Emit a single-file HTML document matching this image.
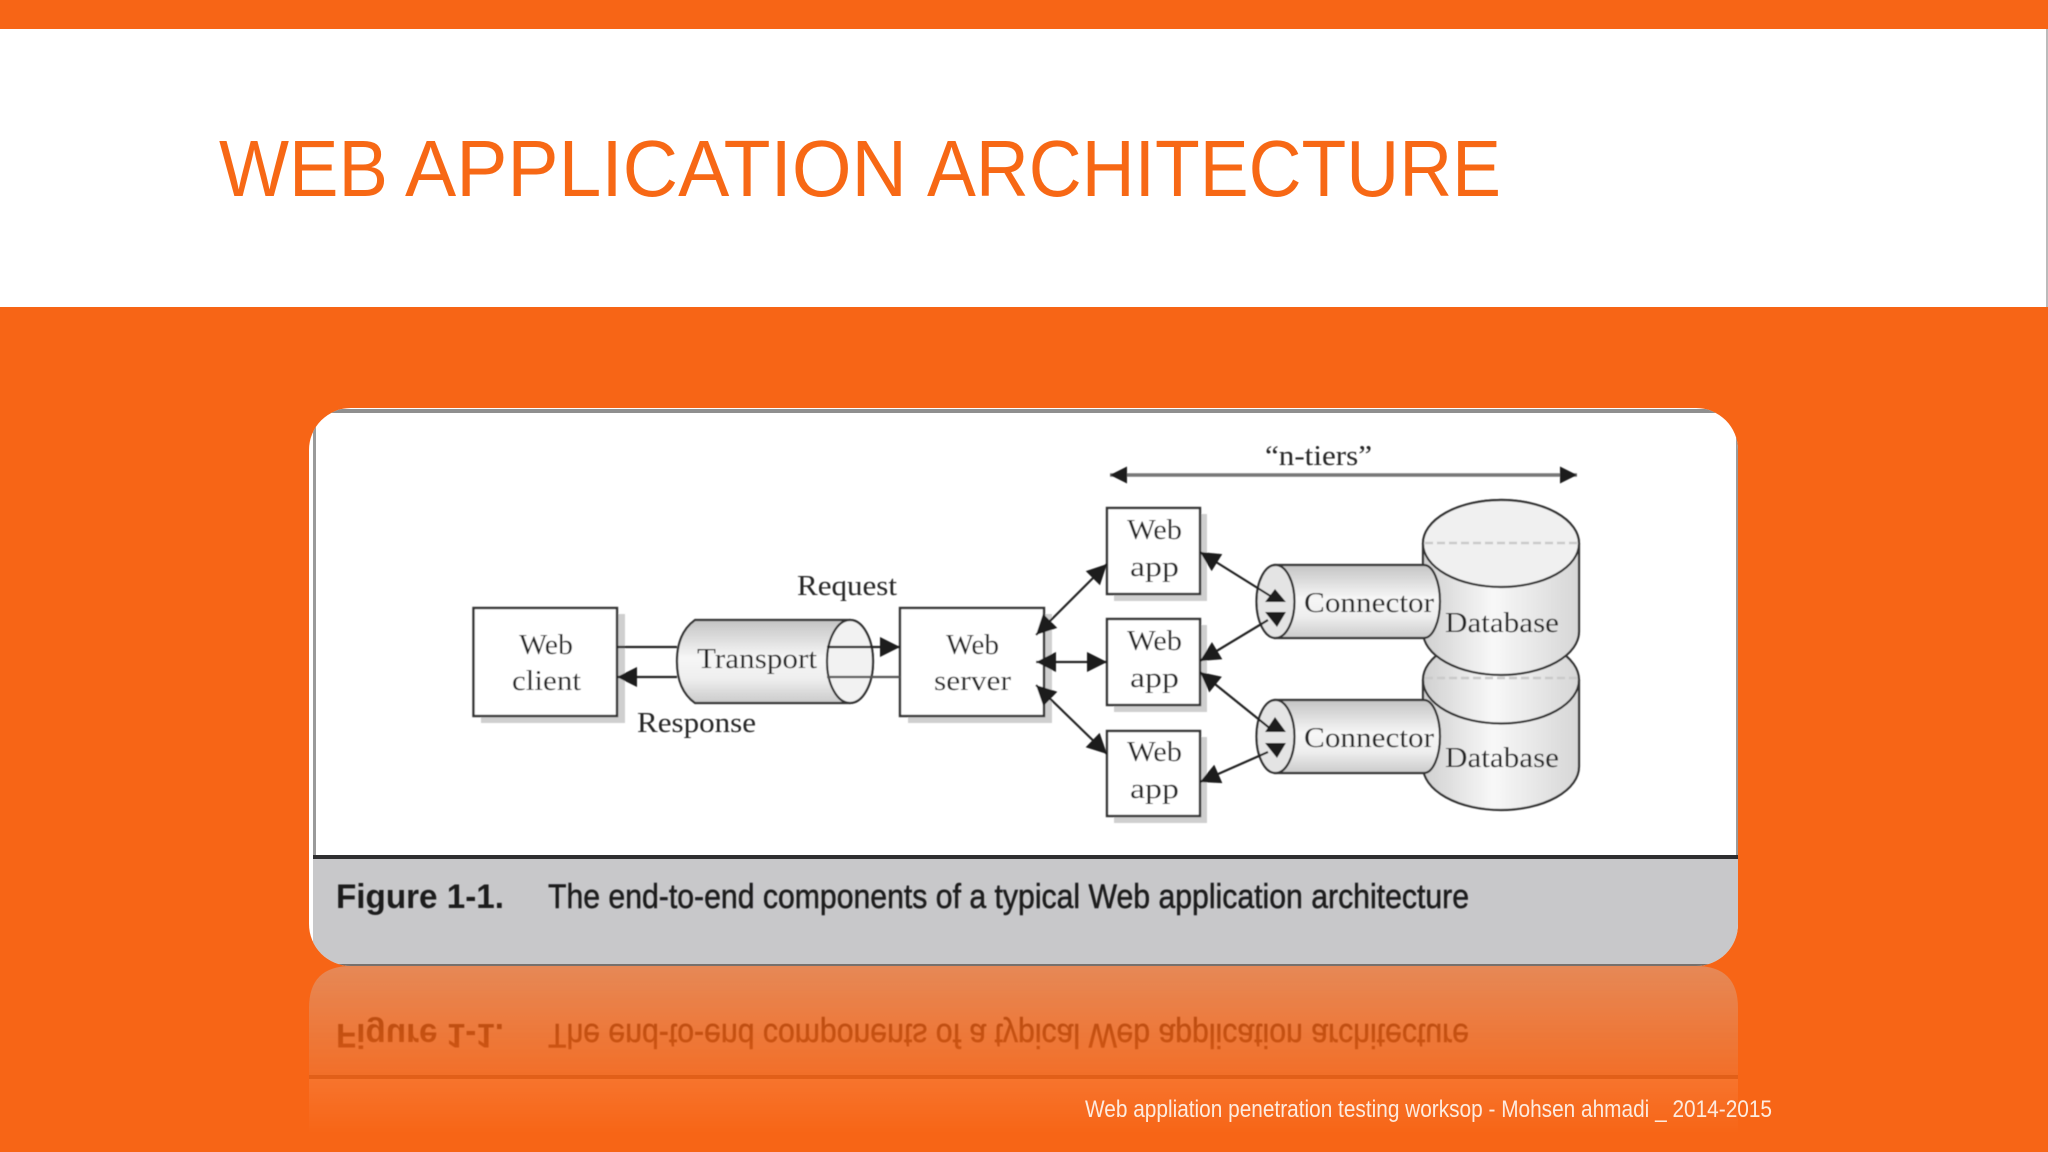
<!DOCTYPE html>
<html lang="en">
<head>
<meta charset="utf-8">
<title>Web Application Architecture</title>
<style>
html,body{margin:0;padding:0;width:2048px;height:1152px;overflow:hidden;background:#F76516}
svg{display:block;overflow:hidden}
text{font-family:"Liberation Serif",serif;fill:#262626}
.s{font-family:"Liberation Sans",sans-serif}
</style>
</head>
<body>
<svg xmlns="http://www.w3.org/2000/svg" width="2048" height="1152" viewBox="0 0 2048 1152">
<defs>
<linearGradient id="v" x1="0" y1="0" x2="0" y2="1"><stop offset="0" stop-color="#c4c4c4"/><stop offset=".45" stop-color="#f6f6f6"/><stop offset=".7" stop-color="#efefef"/><stop offset="1" stop-color="#cbcbcb"/></linearGradient>
<linearGradient id="h" x1="0" y1="0" x2="1" y2="0"><stop offset="0" stop-color="#d0d0d0"/><stop offset=".45" stop-color="#f8f8f8"/><stop offset="1" stop-color="#d6d6d6"/></linearGradient>
<linearGradient id="fade" gradientUnits="userSpaceOnUse" x1="0" y1="966" x2="0" y2="1136"><stop offset="0" stop-color="#fff" stop-opacity=".36"/><stop offset=".63" stop-color="#fff" stop-opacity=".11"/><stop offset="1" stop-color="#fff" stop-opacity="0"/></linearGradient>
<mask id="rm" maskUnits="userSpaceOnUse" x="300" y="966" width="1450" height="170"><rect x="300" y="966" width="1450" height="170" fill="url(#fade)"/></mask>
<clipPath id="card"><rect x="309" y="408" width="1429" height="558" rx="42"/></clipPath>
<clipPath id="rc"><path d="M351 966H1696Q1738 966 1738 1008V1136H309V1008Q309 966 351 966Z"/></clipPath>
<marker id="a" viewBox="0 0 16 16" refX="16" refY="8" markerWidth="17" markerHeight="17" markerUnits="userSpaceOnUse" orient="auto-start-reverse"><path d="M0 0L16 8L0 16Z" fill="#1c1c1c"/></marker>
<marker id="c" viewBox="0 0 20 20" refX="20" refY="10" markerWidth="21" markerHeight="20" markerUnits="userSpaceOnUse" orient="auto-start-reverse"><path d="M0 0L20 10L0 20Z" fill="#1c1c1c"/></marker>
<filter id="b" x="-5%" y="-5%" width="110%" height="110%"><feGaussianBlur stdDeviation=".6"/></filter>
</defs>

<rect width="2048" height="1152" fill="#F76516"/>
<rect y="29" width="2048" height="278" fill="#fff"/>
<rect x="2046" y="29" width="2" height="278" fill="#bbb"/>
<g class="s" font-size="80" style="font-family:'Liberation Sans',sans-serif">
<text class="s" x="219" y="196" font-size="80" textLength="169" lengthAdjust="spacingAndGlyphs" style="fill:#F76815">WEB</text>
<text class="s" x="405" y="196" font-size="80" textLength="502" lengthAdjust="spacingAndGlyphs" style="fill:#F76815">APPLICATION</text>
<text class="s" x="927" y="196" font-size="80" textLength="574" lengthAdjust="spacingAndGlyphs" style="fill:#F76815">ARCHITECTURE</text>
</g>

<!-- reflection -->
<g mask="url(#rm)">
  <g clip-path="url(#rc)">
    <rect x="309" y="966" width="1429" height="109" fill="#C8C8CA"/>
    <rect x="309" y="1075" width="1429" height="4" fill="#333"/>
    <rect x="309" y="1079" width="1429" height="57" fill="#fff"/>
  </g>
  <g filter="url(#b)">
    <g transform="matrix(1 0 0 -1 0 1932)">
      <text class="s" x="336" y="908" font-size="34" font-weight="700" textLength="168" lengthAdjust="spacingAndGlyphs" style="fill:#000">Figure 1-1.</text>
      <text class="s" x="548" y="908" font-size="34" textLength="921" lengthAdjust="spacingAndGlyphs" style="fill:#000;stroke:#000;stroke-width:.5">The end-to-end components of a typical Web application architecture</text>
    </g>
  </g>
</g>

<!-- card -->
<g clip-path="url(#card)">
  <rect x="309" y="408" width="1429" height="558" fill="#fff"/>
  <rect x="309" y="409" width="1429" height="4" fill="#8f8f8f"/>
  <rect x="313" y="409" width="3" height="448" fill="#9a9a9a"/>
  <rect x="1736" y="409" width="2" height="448" fill="#9a9a9a"/>
  <rect x="313" y="858" width="1425" height="108" fill="#C8C8CA"/>
  <rect x="313" y="855" width="1425" height="4" fill="#2e2e30"/>
  <rect x="309" y="964" width="1429" height="2" fill="#77706c"/>
</g>

<g filter="url(#b)">
<text class="s" x="336" y="908" font-size="34" font-weight="700" textLength="168" lengthAdjust="spacingAndGlyphs" style="fill:#1d1d1f">Figure 1-1.</text>
<text class="s" x="548" y="908" font-size="34" textLength="921" lengthAdjust="spacingAndGlyphs" style="fill:#1d1d1f;stroke:#1d1d1f;stroke-width:.5">The end-to-end components of a typical Web application architecture</text>
</g>

<g filter="url(#b)">
  <!-- shadows -->
  <g fill="#cfcfcf">
    <rect x="481" y="614" width="144" height="109"/>
    <rect x="908" y="614" width="144" height="109"/>
    <rect x="1114" y="514" width="93" height="87"/>
    <rect x="1114" y="625" width="93" height="87"/>
    <rect x="1114" y="737" width="93" height="86"/>
  </g>
  <!-- boxes -->
  <g fill="#fff" stroke="#333" stroke-width="2.4">
    <rect x="473.500" y="608" width="143.500" height="108"/>
    <rect x="900" y="608" width="144" height="108"/>
    <rect x="1107" y="508" width="93" height="86"/>
    <rect x="1107" y="619" width="93" height="86"/>
    <rect x="1107" y="731" width="93" height="85"/>
  </g>

  <!-- transport -->
  <path d="M695 620H850A23 41.500 0 0 1 850 703H695Q677 690 677 661.500Q677 633 695 620Z" fill="url(#v)" stroke="#333" stroke-width="2.200"/>
  <ellipse cx="850" cy="661.500" rx="23" ry="41.500" fill="#f2f2f2" stroke="#333" stroke-width="2.200"/>
  <g stroke="#222" stroke-width="2.200" fill="none">
    <line x1="617" y1="647" x2="677" y2="647"/>
    <line x1="827" y1="647" x2="900" y2="647" marker-end="url(#c)"/>
    <line x1="677" y1="677" x2="617" y2="677" marker-end="url(#c)"/>
    <line x1="827" y1="677" x2="900" y2="677" stroke="#555"/>
  </g>

  <!-- database 2 -->
  <path d="M1423 680A78 43.500 0 0 1 1579 680V766.500A78 43.500 0 0 1 1423 766.500Z" fill="url(#h)" stroke="#333" stroke-width="2.200"/>
  <path d="M1423 680A78 43.500 0 0 0 1579 680" fill="none" stroke="#333" stroke-width="2.200"/>
  <line x1="1425" y1="678" x2="1577" y2="678" stroke="#c9c9c9" stroke-width="2.500" stroke-dasharray="8 4"/>
  <!-- database 1 -->
  <path d="M1423 543.500A78 43.500 0 0 1 1579 543.500V631.500A78 43.500 0 0 1 1423 631.500Z" fill="url(#h)" stroke="#333" stroke-width="2.200"/>
  <ellipse cx="1501" cy="543.500" rx="78" ry="43.500" fill="#f0f0f0" stroke="#333" stroke-width="2.200"/>
  <line x1="1425" y1="543" x2="1577" y2="543" stroke="#cacaca" stroke-width="2.500" stroke-dasharray="8 4"/>

  <!-- connector 1 -->
  <path d="M1275 565H1424A16 36.500 0 0 1 1424 638H1275Z" fill="url(#v)" stroke="#333" stroke-width="2.200"/>
  <ellipse cx="1275.500" cy="601.500" rx="19" ry="36.500" fill="#e4e4e4" stroke="#333" stroke-width="2.200"/>
  <!-- connector 2 -->
  <path d="M1275 700H1424A16 36.500 0 0 1 1424 773H1275Z" fill="url(#v)" stroke="#333" stroke-width="2.200"/>
  <ellipse cx="1275.500" cy="736.500" rx="19" ry="36.500" fill="#e4e4e4" stroke="#333" stroke-width="2.200"/>

  <!-- arrows -->
  <g stroke="#222" stroke-width="2.200" fill="none">
    <line x1="1110" y1="475" x2="1577" y2="475" stroke="#777" stroke-width="3.500" marker-start="url(#a)" marker-end="url(#a)"/>
    <line x1="1036" y1="635" x2="1107" y2="564" marker-start="url(#c)" marker-end="url(#c)"/>
    <line x1="1036" y1="662" x2="1107" y2="662" marker-start="url(#c)" marker-end="url(#c)"/>
    <line x1="1036" y1="685" x2="1107" y2="754" marker-start="url(#c)" marker-end="url(#c)"/>
    <line x1="1200" y1="552" x2="1272" y2="597" marker-start="url(#c)"/>
    <line x1="1200" y1="661" x2="1268" y2="620" marker-start="url(#c)"/>
    <line x1="1200" y1="672" x2="1272" y2="730" marker-start="url(#c)"/>
    <line x1="1200" y1="782" x2="1268" y2="752" marker-start="url(#c)"/>
  </g>
  <g fill="#1c1c1c">
    <path d="M1275 589L1286 602H1265Z"/>
    <path d="M1265 612H1286L1277 627Z"/>
    <path d="M1275 717L1286 732H1265Z"/>
    <path d="M1265 743H1286L1277 758Z"/>
  </g>

  <!-- labels -->
  <g font-size="29">
    <text x="519" y="654" textLength="54" lengthAdjust="spacingAndGlyphs">Web</text>
    <text x="512" y="690" textLength="69" lengthAdjust="spacingAndGlyphs">client</text>
    <text x="946" y="654" textLength="53" lengthAdjust="spacingAndGlyphs">Web</text>
    <text x="934" y="690" textLength="77" lengthAdjust="spacingAndGlyphs">server</text>
    <text x="797" y="595" textLength="100" lengthAdjust="spacingAndGlyphs">Request</text>
    <text x="637" y="732" textLength="119" lengthAdjust="spacingAndGlyphs">Response</text>
    <text x="697" y="668" textLength="120" lengthAdjust="spacingAndGlyphs">Transport</text>
    <text x="1265" y="465" textLength="107" lengthAdjust="spacingAndGlyphs">“n-tiers”</text>
    <text x="1127" y="539" textLength="55" lengthAdjust="spacingAndGlyphs">Web</text>
    <text x="1130" y="576" textLength="49" lengthAdjust="spacingAndGlyphs">app</text>
    <text x="1127" y="650" textLength="55" lengthAdjust="spacingAndGlyphs">Web</text>
    <text x="1130" y="687" textLength="49" lengthAdjust="spacingAndGlyphs">app</text>
    <text x="1127" y="761" textLength="55" lengthAdjust="spacingAndGlyphs">Web</text>
    <text x="1130" y="798" textLength="49" lengthAdjust="spacingAndGlyphs">app</text>
    <text x="1304" y="612" textLength="130" lengthAdjust="spacingAndGlyphs">Connector</text>
    <text x="1304" y="747" textLength="130" lengthAdjust="spacingAndGlyphs">Connector</text>
    <text x="1445" y="632" textLength="114" lengthAdjust="spacingAndGlyphs">Database</text>
    <text x="1445" y="767" textLength="114" lengthAdjust="spacingAndGlyphs">Database</text>
  </g>
</g>

<text class="s" x="1085" y="1117" font-size="24" textLength="687" lengthAdjust="spacingAndGlyphs" style="fill:#FDEBDF">Web appliation penetration testing worksop - Mohsen ahmadi _ 2014-2015</text>
</svg>
</body>
</html>
